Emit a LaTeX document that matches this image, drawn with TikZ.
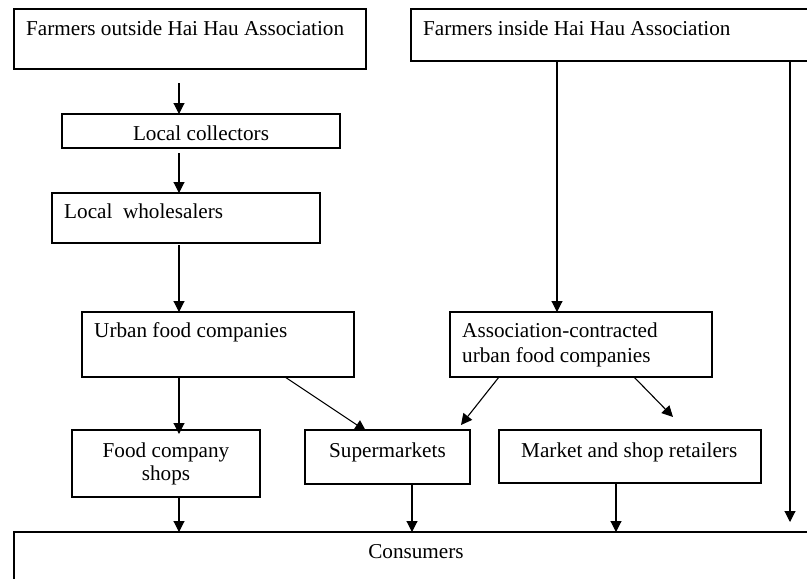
\documentclass[tikz,border=0pt]{standalone}
\usepackage{fontspec}
\setmainfont{Liberation Serif}
\usetikzlibrary{arrows.meta,calc}
\begin{document}
\begin{tikzpicture}[x=1pt,y=-1pt,
  box/.style={draw, line width=1.1pt, anchor=north west, inner sep=0pt, outer sep=0pt},
  lbl/.style={anchor=base west, inner sep=0pt, font=\fontsize{21.2}{24}\selectfont},
  clbl/.style={anchor=base, inner sep=0pt, font=\fontsize{21.2}{24}\selectfont},
  arr/.style={line width=1.1pt, -{Triangle[length=11pt,width=11pt]}}]
\useasboundingbox (0,0) rectangle (807,579);
\clip (0,0) rectangle (807,579);
% boxes
\node[box, minimum width=352pt, minimum height=60pt] (fo) at (14,9) {};
\node[box, minimum width=420pt, minimum height=52pt] (fi) at (411,9) {};
\node[box, minimum width=278pt, minimum height=34pt] (lc) at (62,114) {};
\node[box, minimum width=268pt, minimum height=50pt] (lw) at (52,193) {};
\node[box, minimum width=272pt, minimum height=65pt] (ufc) at (82,312) {};
\node[box, minimum width=262pt, minimum height=65pt] (as) at (450,312) {};
\node[box, minimum width=188pt, minimum height=67pt] (fcs) at (72,430) {};
\node[box, minimum width=165pt, minimum height=54pt] (sm) at (305,430) {};
\node[box, minimum width=262pt, minimum height=53pt] (mr) at (499,430) {};
\node[box, minimum width=810pt, minimum height=60pt] (co) at (14,532) {};
% texts
\node[lbl] (tfo) at (26,35) {Farmers outside Hai Hau Association};
\node[lbl] (tfi) at (423,35) {Farmers inside Hai Hau Association};
\node[clbl] (tlc) at (201,140) {Local collectors};
\node[lbl] (tlw) at (64,218) {Local\ \ wholesalers};
\node[lbl] (tufc) at (94,337) {Urban food companies};
\node[lbl] (tas1) at (462,337) {Association-contracted};
\node[lbl] (tas2) at (462,362) {urban food companies};
\node[clbl] (tfcs1) at (166,457) {Food company};
\node[clbl] (tfcs2) at (166,480) {shops};
\node[lbl] (tsm) at (329,457) {Supermarkets};
\node[lbl] (tmr) at (521,457) {Market and shop retailers};
\node[clbl] (tco) at (416,558) {Consumers};
% connector columns
\coordinate (sp) at (179,0);
\coordinate (smx) at (412,0);
\coordinate (mrx) at (616,0);
\coordinate (asx) at (557,0);
\coordinate (rx) at (790,0);
% connectors
\draw[arr] ([yshift=-14pt]fo.south -| sp) -- (lc.north -| sp);
\draw[arr] ([yshift=-5pt]lc.south -| sp) -- (lw.north -| sp);
\draw[arr] ([yshift=-2pt]lw.south -| sp) -- (ufc.north -| sp);
\draw[arr] (ufc.south -| sp) -- ([yshift=-4pt]fcs.north -| sp);
\draw[arr] (fcs.south -| sp) -- (co.north -| sp);
\draw[arr] ([xshift=203pt]ufc.south west) -- ([xshift=61pt,yshift=-1pt]sm.north west);
\draw[arr] ([xshift=49pt]as.south west) -- ([xshift=156pt,yshift=5pt]sm.north west);
\draw[arr] ([xshift=184pt]as.south west) -- ([xshift=174pt,yshift=13pt]mr.north west);
\draw[arr] (sm.south -| smx) -- (co.north -| smx);
\draw[arr] (mr.south -| mrx) -- (co.north -| mrx);
\draw[arr] (fi.south -| asx) -- (as.north -| asx);
\draw[arr] (fi.south -| rx) -- ([yshift=10pt]co.north -| rx);
\end{tikzpicture}
\end{document}
